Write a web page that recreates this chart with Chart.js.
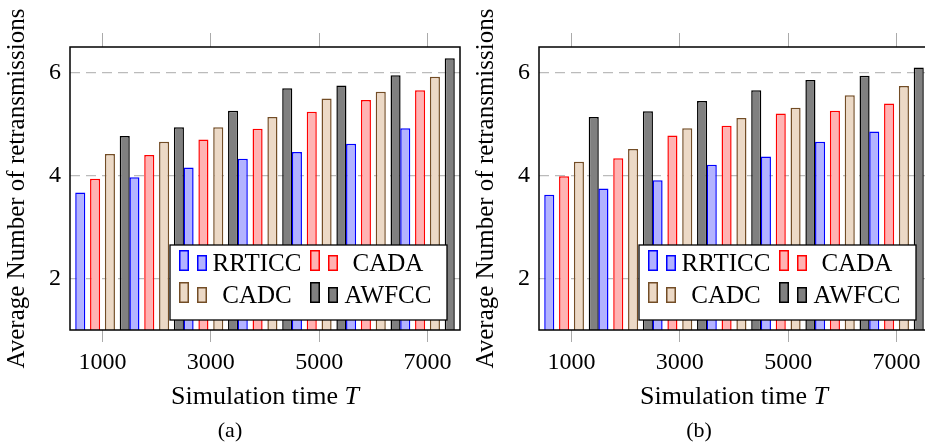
<!DOCTYPE html>
<html>
<head>
<meta charset="utf-8">
<script src="https://cdn.jsdelivr.net/npm/chart.js@4/dist/chart.umd.min.js"></script>
<style>
  html, body { margin: 0; padding: 0; background: #fff; }
  body { position: relative; width: 925px; height: 445px; overflow: hidden; font-family: "Liberation Serif", serif; }
  .panel { position: absolute; top: 0; width: 470px; height: 445px; }
  .panel canvas { position: absolute; left: 0; top: 0; }
  .xtitle { position: absolute; left: 265px; top: 381px; transform: translateX(-50%); font-size: 26px; line-height: 30px; white-space: nowrap; color: #000; }
  .cap { position: absolute; left: 230px; top: 417px; transform: translateX(-50%); font-size: 22px; line-height: 26px; color: #000; }
</style>
</head>
<body>
<div class="panel" style="left:0px">
  <canvas id="chartA" width="470" height="445"></canvas>
  <div class="xtitle">Simulation time <i>T</i></div>
  <div class="cap">(a)</div>
</div>
<div class="panel" style="left:469px">
  <canvas id="chartB" width="470" height="445"></canvas>
  <div class="xtitle">Simulation time <i>T</i></div>
  <div class="cap">(b)</div>
</div>
<script>
// simulation times and axis ticks
const times = [1000, 2000, 3000, 4000, 5000, 6000, 7000];
const xTickValues = [1000, 3000, 5000, 7000];
const yTickValues = [2, 4, 6];
const seriesNames = ['RRTICC', 'CADA', 'CADC', 'AWFCC'];

// panel (a)
const rrticcA = [3.67, 3.97, 4.16, 4.33, 4.46, 4.62, 4.92];
const cadaA   = [3.94, 4.40, 4.70, 4.91, 5.24, 5.47, 5.66];
const cadcA   = [4.42, 4.66, 4.94, 5.14, 5.50, 5.63, 5.92];
const awfccA  = [4.77, 4.94, 5.26, 5.70, 5.75, 5.95, 6.28];

// panel (b)
const rrticcB = [3.63, 3.75, 3.91, 4.21, 4.37, 4.66, 4.86];
const cadaB   = [3.99, 4.34, 4.78, 4.97, 5.21, 5.26, 5.40];
const cadcB   = [4.27, 4.52, 4.92, 5.12, 5.32, 5.56, 5.74];
const awfccB  = [5.14, 5.25, 5.45, 5.66, 5.86, 5.94, 6.10];

const styles = [
  { fill: 'rgb(179,179,255)', line: 'rgb(0,0,255)' },
  { fill: 'rgb(255,179,179)', line: 'rgb(255,0,0)' },
  { fill: 'rgb(236,217,198)', line: 'rgb(115,77,38)' },
  { fill: 'rgb(128,128,128)', line: 'rgb(0,0,0)' }
];

Chart.defaults.font.family = '"Liberation Serif", serif';
Chart.defaults.color = '#000';

// black box round the plot area
const frame = {
  id: 'frame',
  afterDatasetsDraw(chart) {
    const { ctx, chartArea: a } = chart;
    ctx.save();
    ctx.strokeStyle = '#000';
    ctx.lineWidth = 1.5;
    ctx.strokeRect(a.left, a.top, a.right - a.left, a.bottom - a.top);
    ctx.restore();
  }
};

// legend inside the plot, two bar swatches per entry
const boxLegend = {
  id: 'boxLegend',
  afterDraw(chart) {
    const { ctx, chartArea: a } = chart;
    const w = 277, h = 75;
    const x0 = a.right - 13 - w, y0 = a.bottom - 10 - h;
    ctx.save();
    ctx.fillStyle = '#fff';
    ctx.fillRect(x0, y0, w, h);
    ctx.strokeStyle = '#000';
    ctx.lineWidth = 1.3;
    ctx.strokeRect(x0, y0, w, h);
    ctx.font = '25px "Liberation Serif"';
    ctx.textAlign = 'center';
    ctx.textBaseline = 'alphabetic';
    chart.data.datasets.forEach((ds, i) => {
      const col = i % 2, row = Math.floor(i / 2);
      const bx = x0 + 9 + col * 131, base = y0 + 26 + row * 32;
      ctx.lineWidth = 1.5;
      [[0, 21], [18, 16]].forEach(([dx, hh]) => {
        ctx.fillStyle = ds.backgroundColor;
        ctx.fillRect(bx + dx, base - hh, 10, hh);
        ctx.strokeStyle = ds.borderColor;
        ctx.strokeRect(bx + dx + 0.75, base - hh + 0.75, 8.5, hh - 1.5);
      });
      ctx.fillStyle = '#000';
      ctx.fillText(ds.label, x0 + 87 + col * 131, base);
    });
    ctx.restore();
  }
};

function setTicks(values) {
  return scale => { scale.ticks = values.map(v => ({ value: v })); };
}

function makeChart(id, series) {
  return new Chart(document.getElementById(id), {
    type: 'bar',
    data: {
      labels: times,
      datasets: series.map((d, i) => ({
        label: seriesNames[i],
        data: d,
        backgroundColor: styles[i].fill,
        borderColor: styles[i].line,
        borderWidth: 1.5,
        borderSkipped: false,
        categoryPercentage: 1.095,
        barPercentage: 0.68
      }))
    },
    options: {
      responsive: false,
      animation: false,
      layout: { padding: { top: 33, right: 10, left: 0, bottom: 0 } },
      plugins: { legend: { display: false }, tooltip: { enabled: false } },
      scales: {
        x: {
          type: 'linear', position: 'bottom', min: 400, max: 7600, offset: false,
          afterBuildTicks: setTicks(xTickValues),
          afterFit: s => { s.height = 115; },
          grid: { offset: false, drawOnChartArea: false, color: '#aaa', tickLength: 12 },
          border: { display: false },
          ticks: { font: { size: 24 }, padding: 6, maxRotation: 0, callback: v => String(v) }
        },
        xTop: {
          type: 'linear', position: 'top', min: 400, max: 7600, offset: false,
          afterBuildTicks: setTicks(xTickValues),
          grid: { offset: false, drawOnChartArea: false, color: '#aaa', tickLength: 14 },
          border: { display: false },
          ticks: { display: false }
        },
        y: {
          min: 1, max: 6.5,
          afterBuildTicks: setTicks(yTickValues),
          afterFit: s => { s.width = 70; },
          grid: { color: '#bbb', lineWidth: 1.3, drawTicks: false },
          border: { display: false, dash: [10, 6] },
          ticks: { font: { size: 24 }, padding: 9 },
          title: { display: true, text: 'Average Number of retransmissions', font: { size: 25 }, padding: { top: 2, bottom: 0 } }
        }
      }
    },
    plugins: [frame, boxLegend]
  });
}

makeChart('chartA', [rrticcA, cadaA, cadcA, awfccA]);
makeChart('chartB', [rrticcB, cadaB, cadcB, awfccB]);
</script>
</body>
</html>
